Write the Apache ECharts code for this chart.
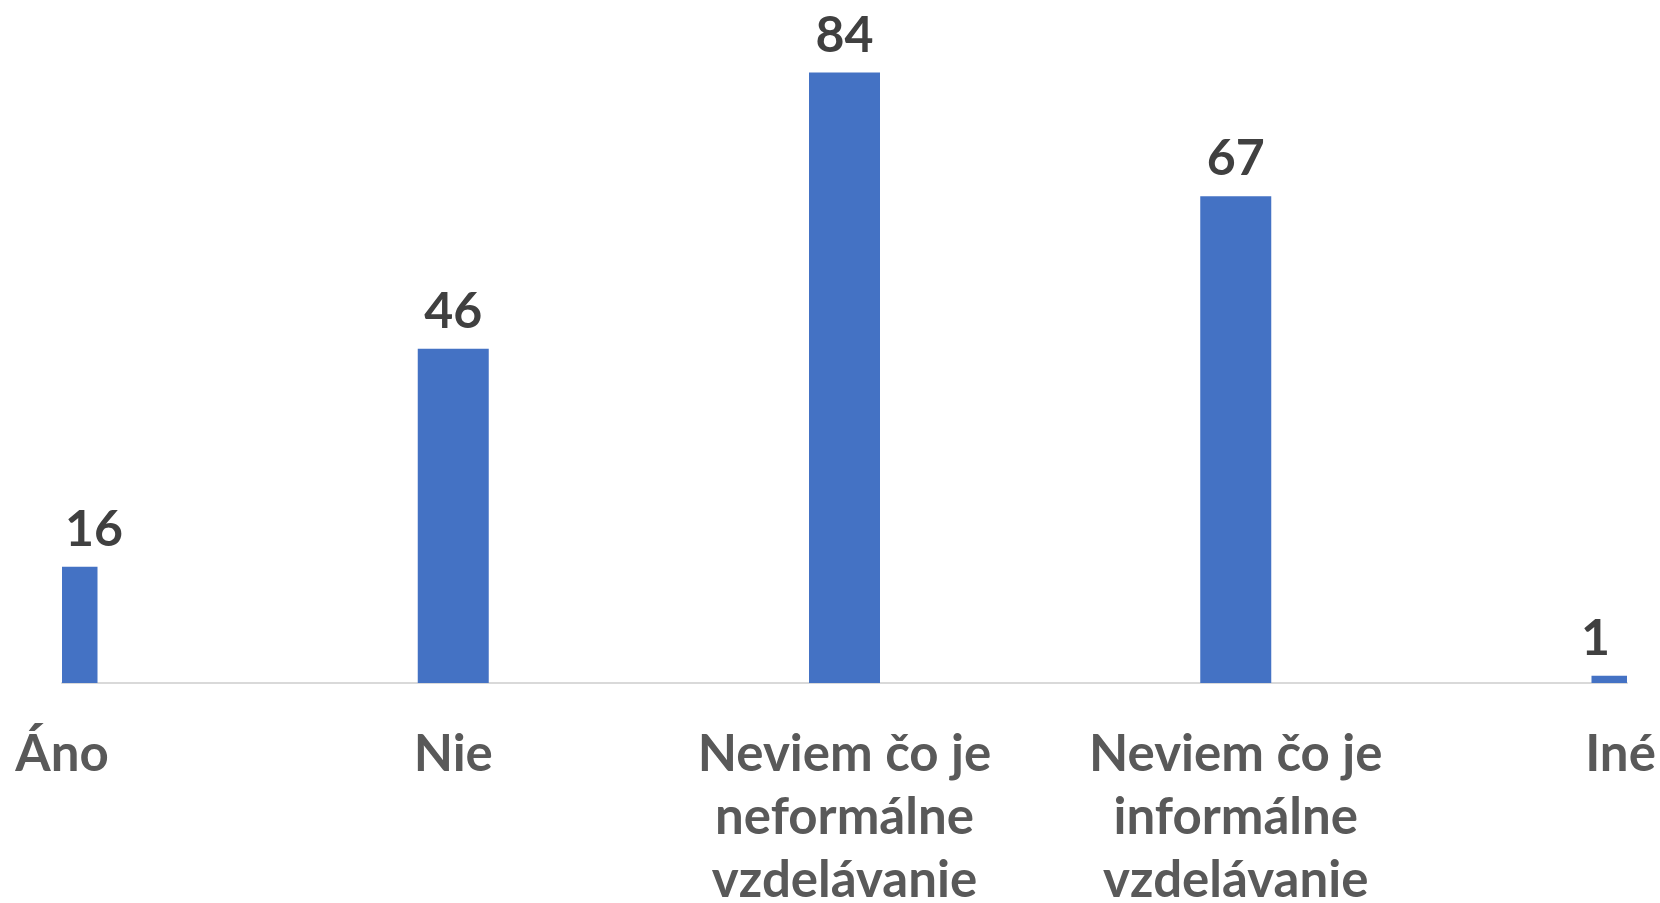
<!DOCTYPE html>
<html>
<head>
<meta charset="utf-8">
<script src="https://cdn.jsdelivr.net/npm/echarts@6/dist/echarts.min.js"></script>
<style>
	html, body { margin: 0; padding: 0; background: #fff; }
	#chart { width: 1660px; height: 903px; }
</style>
</head>
<body>
<div id="chart"></div>
<script>
	// kategórie a hodnoty
	var categories = ['Áno', 'Nie', 'Neviem čo je\nneformálne\nvzdelávanie', 'Neviem čo je\ninformálne\nvzdelávanie', 'Iné']
	var values = [16, 46, 84, 67, 1]

	var BAR_W = 71

	// stĺpce orezané na plochu grafu (krajné stĺpce sú na okraji osi)
	function renderBar(params, api) {
		var idx = api.value(0)
		var val = api.value(1)
		var top = api.coord([idx, val])
		var base = api.coord([idx, 0])
		var cs = params.coordSys
		var rect = echarts.graphic.clipRectByRect({
			x: top[0] - BAR_W / 2,
			y: top[1],
			width: BAR_W,
			height: base[1] - top[1]
		}, cs)
		// popisky pri okraji držať vo vnútri plochy
		var tx = top[0]
		var align = 'center'
		if (top[0] - cs.x < 1) {
			tx = cs.x + 3
			align = 'left'
		} else if (cs.x + cs.width - top[0] < 1) {
			tx = cs.x + cs.width - 17
			align = 'right'
		}
		return {
			type: 'group',
			children: [{
					type: 'rect',
					shape: rect,
					style: { fill: '#4472C4' }
				},
				{
					type: 'text',
					z2: 10,
					style: {
						text: String(val),
						x: tx,
						y: top[1] - 12,
						align: align,
						verticalAlign: 'bottom',
						fill: '#404040',
						font: 'bold 50px Lato'
					}
				}
			]
		}
	}

	var chart = echarts.init(document.getElementById('chart'))
	var option = {
		animation: false,
		grid: {
			left: 62,
			right: 33,
			top: 29,
			bottom: 220,
			containLabel: false,
			outerBoundsMode: 'none'
		},
		xAxis: {
			type: 'category',
			data: categories.map(function (c, i) {
				return i === categories.length - 1 ?
					{ value: c, textStyle: { padding: [0, 13, 0, 0] } } :
					c
			}),
			boundaryGap: false,
			axisLine: {
				lineStyle: { color: '#D9D9D9', width: 2 }
			},
			axisTick: { show: false },
			axisLabel: {
				interval: 0,
				margin: 40,
				color: '#595959',
				fontFamily: 'Lato',
				fontWeight: 'bold',
				fontSize: 51,
				lineHeight: 63
			}
		},
		yAxis: {
			type: 'value',
			min: 0,
			max: 90,
			show: false,
			splitLine: { show: false }
		},
		series: [{
			type: 'custom',
			renderItem: renderBar,
			clip: false,
			data: values.map(function (v, i) {
				return [i, v]
			})
		}]
	}
	chart.setOption(option)
</script>
</body>
</html>
